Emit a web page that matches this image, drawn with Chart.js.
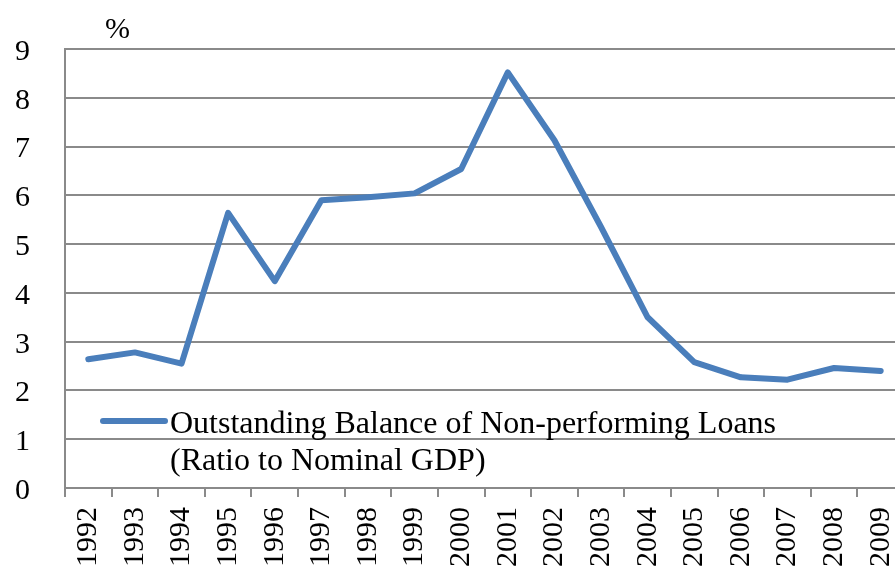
<!DOCTYPE html>
<html>
<head>
<meta charset="utf-8">
<script src="https://cdn.jsdelivr.net/npm/chart.js@4.4.1/dist/chart.umd.min.js"></script>
<style>
  html, body { margin: 0; padding: 0; background: #fff; overflow: hidden; }
  /* plot runs a bit past the right window edge, as in the original */
  #wrap { width: 904px; height: 572px; position: relative; }
</style>
</head>
<body>
<div id="wrap"><canvas id="myChart"></canvas></div>
<script>
const years = [
  '1992', '1993', '1994', '1995', '1996', '1997', '1998', '1999', '2000',
  '2001', '2002', '2003', '2004', '2005', '2006', '2007', '2008', '2009'
];
const npl = [
  2.64, 2.78, 2.55, 5.64, 4.24, 5.90, 5.96, 6.04, 6.54,
  8.52, 7.13, 5.35, 3.50, 2.58, 2.27, 2.22, 2.46, 2.40
];
const seriesLabel = ['Outstanding Balance of Non-performing Loans', '(Ratio to Nominal GDP)'];
const unitLabel = '%';

const serif = "'Liberation Serif', 'DejaVu Serif', serif";
const gridGrey = '#8a8a8a';

// legend + unit drawn by hand, sits inside the plot like the original
const extraText = {
  id: 'extraText',
  afterDraw(chart) {
    const { ctx, chartArea } = chart;
    ctx.save();
    ctx.fillStyle = '#000';
    ctx.font = '30px ' + serif;
    ctx.textBaseline = 'alphabetic';
    ctx.fillText(unitLabel, chartArea.left + 40, chartArea.top - 11);

    const ds = chart.data.datasets[0];
    const x0 = chartArea.left + 38;
    const y0 = 421;
    ctx.strokeStyle = ds.borderColor;
    ctx.lineWidth = 6;
    ctx.lineCap = 'round';
    ctx.beginPath();
    ctx.moveTo(x0, y0);
    ctx.lineTo(x0 + 62, y0);
    ctx.stroke();
    ctx.font = '32px ' + serif;
    ctx.fillText(seriesLabel[0], x0 + 67, 433);
    ctx.fillText(seriesLabel[1], x0 + 67, 470);
    ctx.restore();
  }
};

new Chart(document.getElementById('myChart'), {
  type: 'line',
  data: {
    labels: years,
    datasets: [{
      label: seriesLabel.join(' '),
      data: npl,
      borderColor: 'rgb(74,126,187)',
      borderWidth: 6,
      borderJoinStyle: 'round',
      borderCapStyle: 'round',
      pointRadius: 0,
      tension: 0,
      fill: false
    }]
  },
  options: {
    responsive: true,
    maintainAspectRatio: false,
    animation: false,
    layout: { padding: { top: 49, right: 0, left: 0, bottom: 0 } },
    plugins: {
      legend: { display: false },
      tooltip: { enabled: false }
    },
    scales: {
      x: {
        type: 'category',
        offset: true,
        grid: {
          display: true,
          offset: true,
          drawOnChartArea: false,
          drawTicks: true,
          tickLength: 9,
          color: gridGrey,
          lineWidth: 2
        },
        border: { display: true, color: gridGrey, width: 2 },
        ticks: {
          color: '#000',
          font: { family: serif, size: 30 },
          minRotation: 90,
          maxRotation: 90,
          padding: 10,
          autoSkip: false
        },
        afterFit(scale) {
          scale.height = 84;
          scale.paddingLeft = 0;
          scale.paddingRight = 0;
        }
      },
      y: {
        min: 0,
        max: 9,
        grid: {
          color: gridGrey,
          lineWidth: 2,
          drawTicks: false
        },
        border: { display: true, color: gridGrey, width: 2 },
        ticks: {
          stepSize: 1,
          color: '#000',
          font: { family: serif, size: 30 },
          padding: 35,
          labelOffset: 3
        },
        afterFit(scale) {
          scale.width = 65;
          scale.paddingTop = 0;
          scale.paddingBottom = 0;
        }
      }
    }
  },
  plugins: [extraText]
});
</script>
</body>
</html>
